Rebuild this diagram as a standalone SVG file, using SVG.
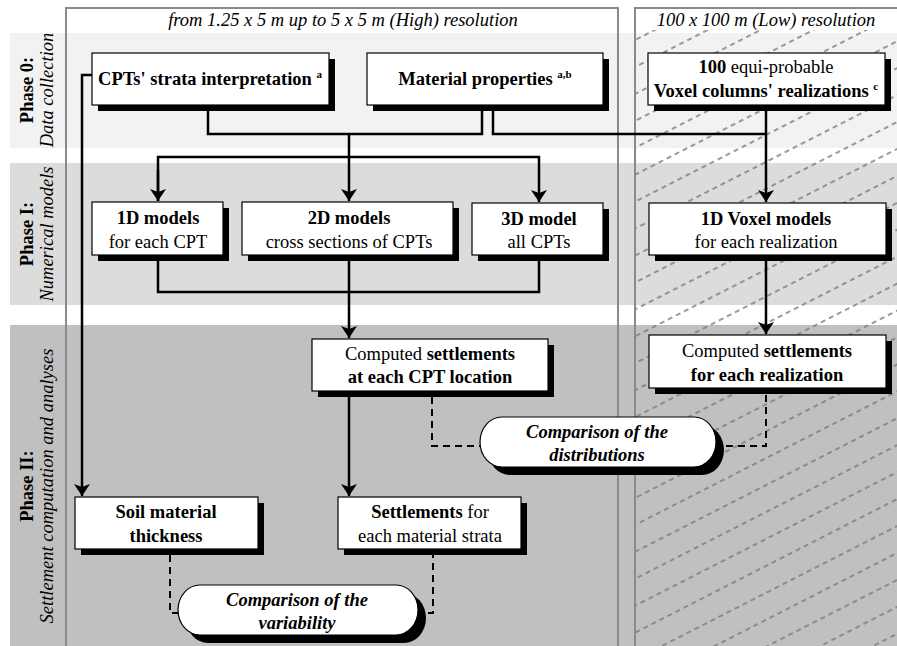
<svg xmlns="http://www.w3.org/2000/svg" width="897" height="646" viewBox="0 0 897 646" font-family="'Liberation Serif', 'DejaVu Serif', serif">
<defs>
<style>
text{font-family:"Liberation Serif","DejaVu Serif",serif;font-size:18.5px;fill:#000}
.b{font-weight:bold}
.i{font-style:italic}
.bi{font-weight:bold;font-style:italic}
.box{fill:#fff;stroke:#000;stroke-width:1.2}
.sh{fill:#000}
.ln{fill:none;stroke:#000;stroke-width:2.5}
.dl{fill:none;stroke:#000;stroke-width:2;stroke-dasharray:7 5}
.fr{fill:none;stroke:#8a8a8a;stroke-width:2}
.sup{font-size:11px}
</style>
<marker id="ah" markerWidth="12" markerHeight="16" refX="12" refY="8" orient="auto" markerUnits="userSpaceOnUse" viewBox="0 0 12 16">
<path d="M0,0 L12,8 L0,16 L3,8 z" fill="#000"/>
</marker>
<pattern id="hatch" patternUnits="userSpaceOnUse" width="18" height="24" patternTransform="rotate(-27)">
<line x1="0" y1="12" x2="18" y2="12" stroke="#7a7a7a" stroke-width="1.3" stroke-dasharray="5 4"/>
</pattern>
</defs>

<g id="bands">
<rect x="10" y="33" width="887" height="115" fill="#f2f2f2"/>
<rect x="10" y="163" width="887" height="142" fill="#dcdcdc"/>
<rect x="10" y="325" width="887" height="321" fill="#c0c0c0"/>
<rect x="636" y="30" width="261" height="616" fill="url(#hatch)"/>
</g>

<g id="frames">
<polyline class="fr" points="66,646 66,8 618,8 618,646"/>
<polyline class="fr" points="635,646 635,8 897,8"/>
<text class="i" x="343" y="26" text-anchor="middle">from 1.25 x 5 m up to 5 x 5 m (High) resolution</text>
<text class="i" x="766" y="26" text-anchor="middle">100 x 100 m (Low) resolution</text>
</g>

<g id="phase-labels">
<text class="b" transform="translate(33,90) rotate(-90)" text-anchor="middle">Phase 0:</text>
<text class="i" transform="translate(53,90) rotate(-90)" text-anchor="middle">Data collection</text>
<text class="b" transform="translate(33,234) rotate(-90)" text-anchor="middle">Phase I:</text>
<text class="i" transform="translate(53,234) rotate(-90)" text-anchor="middle">Numerical models</text>
<text class="b" transform="translate(33,486) rotate(-90)" text-anchor="middle">Phase II:</text>
<text class="i" transform="translate(53,486) rotate(-90)" text-anchor="middle">Settlement computation and analyses</text>
</g>

<g id="connectors">
<polyline class="ln" points="208,111 208,134 482,134 482,111"/>
<polyline class="ln" points="493,111 493,134 766,134"/>
<line class="ln" x1="766" y1="111" x2="766" y2="202" marker-end="url(#ah)"/>
<line class="ln" x1="349" y1="134" x2="349" y2="201" marker-end="url(#ah)"/>
<polyline class="ln" points="158,201 158,157 539,157 539,202" marker-end="url(#ah)"/>
<line class="ln" x1="158" y1="170" x2="158" y2="201" marker-end="url(#ah)"/>
<polyline class="ln" points="92,75 82,75 82,496" marker-end="url(#ah)"/>
<polyline class="ln" points="158,261 158,292 539,292 539,261"/>
<line class="ln" x1="349" y1="261" x2="349" y2="338" marker-end="url(#ah)"/>
<line class="ln" x1="766" y1="261" x2="766" y2="334" marker-end="url(#ah)"/>
<line class="ln" x1="349" y1="397" x2="349" y2="496" marker-end="url(#ah)"/>
<polyline class="dl" points="432,397 432,446 482,446"/>
<polyline class="dl" points="714,446 766,446 766,394"/>
<polyline class="dl" points="170,555 170,613 180,613"/>
<polyline class="dl" points="416,613 433,613 433,555"/>
</g>

<g id="n-cpt">
<rect class="sh" x="98" y="59" width="237" height="52"/>
<rect class="box" x="92" y="53" width="237" height="52"/>
<text class="b" x="210" y="85" text-anchor="middle">CPTs' strata interpretation <tspan class="sup" dy="-7">a</tspan></text>
</g>
<g id="n-material">
<rect class="sh" x="373" y="59" width="236" height="52"/>
<rect class="box" x="367" y="53" width="236" height="52"/>
<text class="b" x="485" y="85" text-anchor="middle">Material properties <tspan class="sup" dy="-7">a,b</tspan></text>
</g>
<g id="n-voxel">
<rect class="sh" x="654" y="59" width="237" height="52"/>
<rect class="box" x="648" y="53" width="237" height="52"/>
<text x="766" y="73" text-anchor="middle"><tspan class="b">100</tspan> equi-probable</text>
<text class="b" x="766" y="97" text-anchor="middle">Voxel columns' realizations <tspan class="sup" dy="-7">c</tspan></text>
</g>

<g id="n-1d">
<rect class="sh" x="98" y="208" width="131" height="53"/>
<rect class="box" x="92" y="202" width="131" height="53"/>
<text class="b" x="158" y="224" text-anchor="middle">1D models</text>
<text x="158" y="248" text-anchor="middle">for each CPT</text>
</g>
<g id="n-2d">
<rect class="sh" x="248" y="208" width="211" height="53"/>
<rect class="box" x="242" y="202" width="211" height="53"/>
<text class="b" x="349" y="224" text-anchor="middle">2D models</text>
<text x="349" y="248" text-anchor="middle">cross sections of CPTs</text>
</g>
<g id="n-3d">
<rect class="sh" x="478" y="209" width="131" height="52"/>
<rect class="box" x="472" y="203" width="131" height="52"/>
<text class="b" x="539" y="225" text-anchor="middle">3D model</text>
<text x="539" y="248" text-anchor="middle">all CPTs</text>
</g>
<g id="n-1dvoxel">
<rect class="sh" x="655" y="209" width="237" height="52"/>
<rect class="box" x="649" y="203" width="237" height="52"/>
<text class="b" x="766" y="225" text-anchor="middle">1D Voxel models</text>
<text x="766" y="248" text-anchor="middle">for each realization</text>
</g>

<g id="n-settle-cpt">
<rect class="sh" x="318" y="345" width="236" height="52"/>
<rect class="box" x="312" y="339" width="236" height="52"/>
<text x="430" y="360" text-anchor="middle">Computed <tspan class="b">settlements</tspan></text>
<text class="b" x="430" y="383" text-anchor="middle">at each CPT location</text>
</g>
<g id="n-settle-real">
<rect class="sh" x="655" y="341" width="237" height="53"/>
<rect class="box" x="649" y="335" width="237" height="53"/>
<text x="767" y="357" text-anchor="middle">Computed <tspan class="b">settlements</tspan></text>
<text class="b" x="767" y="381" text-anchor="middle">for each realization</text>
</g>
<g id="n-soil">
<rect class="sh" x="81" y="503" width="183" height="52"/>
<rect class="box" x="75" y="497" width="183" height="52"/>
<text class="b" x="166" y="518" text-anchor="middle">Soil material</text>
<text class="b" x="166" y="542" text-anchor="middle">thickness</text>
</g>
<g id="n-settle-strata">
<rect class="sh" x="344" y="503" width="183" height="52"/>
<rect class="box" x="338" y="497" width="183" height="52"/>
<text x="430" y="518" text-anchor="middle"><tspan class="b">Settlements</tspan> for</text>
<text x="430" y="542" text-anchor="middle">each material strata</text>
</g>
<g id="n-comp-dist">
<rect class="sh" x="488" y="425" width="236" height="50" rx="22" ry="25"/>
<rect class="box" x="480" y="417" width="236" height="50" rx="22" ry="25"/>
<text class="bi" x="597" y="438" text-anchor="middle">Comparison of the</text>
<text class="bi" x="597" y="461" text-anchor="middle">distributions</text>
</g>
<g id="n-comp-var">
<rect class="sh" x="186" y="593" width="240" height="50" rx="22" ry="25"/>
<rect class="box" x="178" y="585" width="240" height="50" rx="22" ry="25"/>
<text class="bi" x="297" y="606" text-anchor="middle">Comparison of the</text>
<text class="bi" x="297" y="629" text-anchor="middle">variability</text>
</g>
</svg>
